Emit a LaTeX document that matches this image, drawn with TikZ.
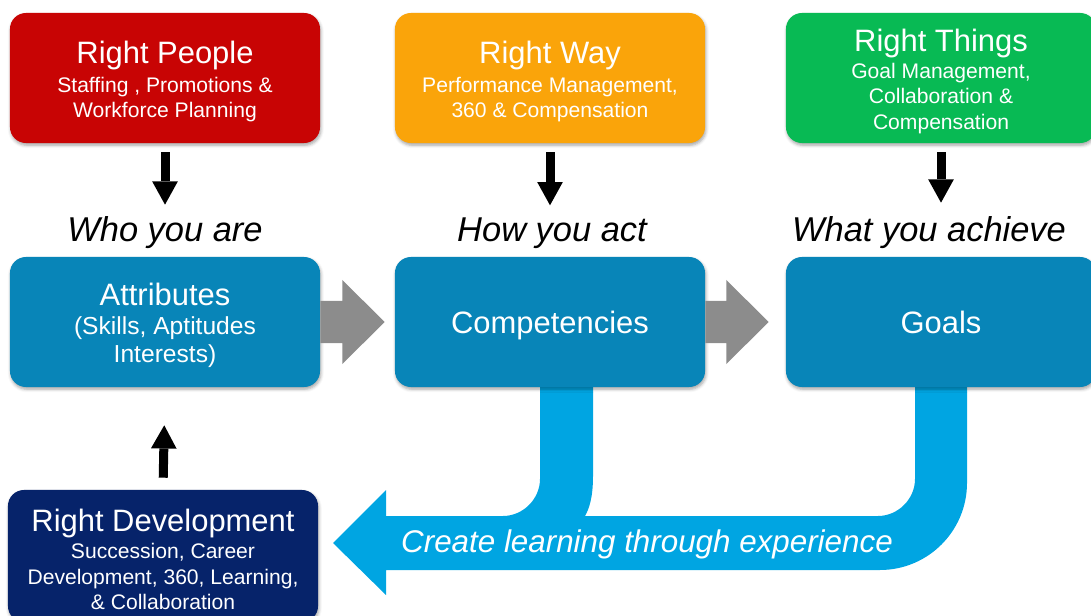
\documentclass[tikz,border=0pt]{standalone}
\usepackage{fontspec}
\setmainfont{Liberation Sans}
\usepackage{tikz}
\usetikzlibrary{calc}
\usetikzlibrary{positioning}
\usetikzlibrary{arrows.meta}
\usetikzlibrary{shadows.blur}

\definecolor{peoplered}{RGB}{200,4,4}
\definecolor{wayorange}{RGB}{250,164,10}
\definecolor{thingsgreen}{RGB}{8,186,84}
\definecolor{stepblue}{RGB}{8,133,184}
\definecolor{loopblue}{RGB}{0,165,226}
\definecolor{devnavy}{RGB}{6,35,106}
\definecolor{pushgray}{RGB}{140,140,140}

\newcommand{\titletxt}{\fontsize{22}{26}\selectfont}
\newcommand{\subtxt}{\fontsize{15}{18}\selectfont}
\newcommand{\headline}[1]{{\titletxt\rule[-4.6pt]{0pt}{25.1pt}#1}}

\begin{document}
\begin{tikzpicture}[x=0.025cm,y=-0.025cm,
    tilebox/.style={rounded corners=0.4cm, minimum width=7.75cm, minimum height=3.25cm,
      text=white, align=center, font=\subtxt,
      blur shadow={shadow xshift=0.6pt, shadow yshift=-1.6pt, shadow blur steps=4, shadow opacity=35}},
    askline/.style={font=\itshape\fontsize{24.5}{28}\selectfont, inner sep=0pt},
    downarrow/.style={line width=0.225cm, -{Triangle[length=0.58cm, width=0.64cm, line width=0pt]}},
    pusharrow/.style={fill=pushgray}]
      \useasboundingbox (0,0) rectangle (1091,616);

      % learning loop, behind the boxes
      \fill[loopblue] (333,543) -- (386,490) -- (386,516) -- (503,516)
        .. controls (523,516) and (540,499) .. (540,479) -- (540,385) -- (593,385) -- (593,476)
        .. controls (593,498) and (589,509) .. (585,516) -- (878,516)
        .. controls (898,516) and (915,499) .. (915,479) -- (915,385) -- (967,385) -- (967,483)
        .. controls (967,531) and (928,570) .. (880,570) -- (386,570) -- (386,595) -- cycle;
      \node[text=white, font=\itshape\fontsize{22.3}{26}\selectfont] (learn) at (647,544) {Create learning through experience};

      % top row
      \node[tilebox, fill=peoplered] (people) at (165,78) {\headline{Right People}\\[2.6pt] Staffing , Promotions \&\\ Workforce Planning};
      \node[tilebox, fill=wayorange] (way) at (550,78) {\headline{Right Way}\\[2.6pt] Performance Management,\\ 360 \& Compensation};
      \node[tilebox, fill=thingsgreen] (things) at (941,78) {\headline{Right Things}\\[1.5pt] Goal Management,\\ Collaboration \&\\ Compensation};

      \node[askline] (who) at (165,233) {Who you are};
      \node[askline] (how) at (552,233) {How you act};
      \node[askline] (what) at (929,233) {What you achieve};

      % middle row
      \node[tilebox, fill=stepblue] (attr) at (165,322) {\headline{Attributes}\\[3pt] {\fontsize{17.5}{20}\selectfont (Skills, Aptitudes}\\[2pt] {\fontsize{17.5}{20}\selectfont Interests)}};
      \node[tilebox, fill=stepblue] (comp) at (550,322) {\headline{Competencies}};
      \node[tilebox, fill=stepblue] (goals) at (941,322) {\headline{Goals}};

      % bottom
      \node[tilebox, fill=devnavy, minimum height=3.3cm] (dev) at (163,556) {\headline{Right Development}\\[1.5pt] Succession, Career\\ Development, 360, Learning,\\ \& Collaboration};

      \draw[downarrow, shorten <=0.225cm, shorten >=0.3cm] (people.south) -- (people.south |- who.north);
      \draw[downarrow, shorten <=0.225cm, shorten >=0.3cm] (way.south) -- (way.south |- how.north);
      \draw[downarrow, shorten <=0.225cm, shorten >=0.35cm] (things.south) -- (things.south |- what.north);
      \draw[downarrow, shorten <=0.3cm, shorten >=0.95cm] (dev.north) -- (attr.south);

      \fill[pusharrow] ($(attr.east)+(0,-21)$) -- ($(attr.east)+(22,-21)$) -- ($(attr.east)+(22,-42)$)
        -- ($(comp.west)+(-10,0)$) -- ($(attr.east)+(22,42)$) -- ($(attr.east)+(22,21)$) -- ($(attr.east)+(0,21)$) -- cycle;
      \fill[pusharrow] ($(comp.east)+(0,-21)$) -- ($(comp.east)+(21,-21)$) -- ($(comp.east)+(21,-42)$)
        -- ($(goals.west)+(-17,0)$) -- ($(comp.east)+(21,42)$) -- ($(comp.east)+(21,21)$) -- ($(comp.east)+(0,21)$) -- cycle;
\end{tikzpicture}
\end{document}
